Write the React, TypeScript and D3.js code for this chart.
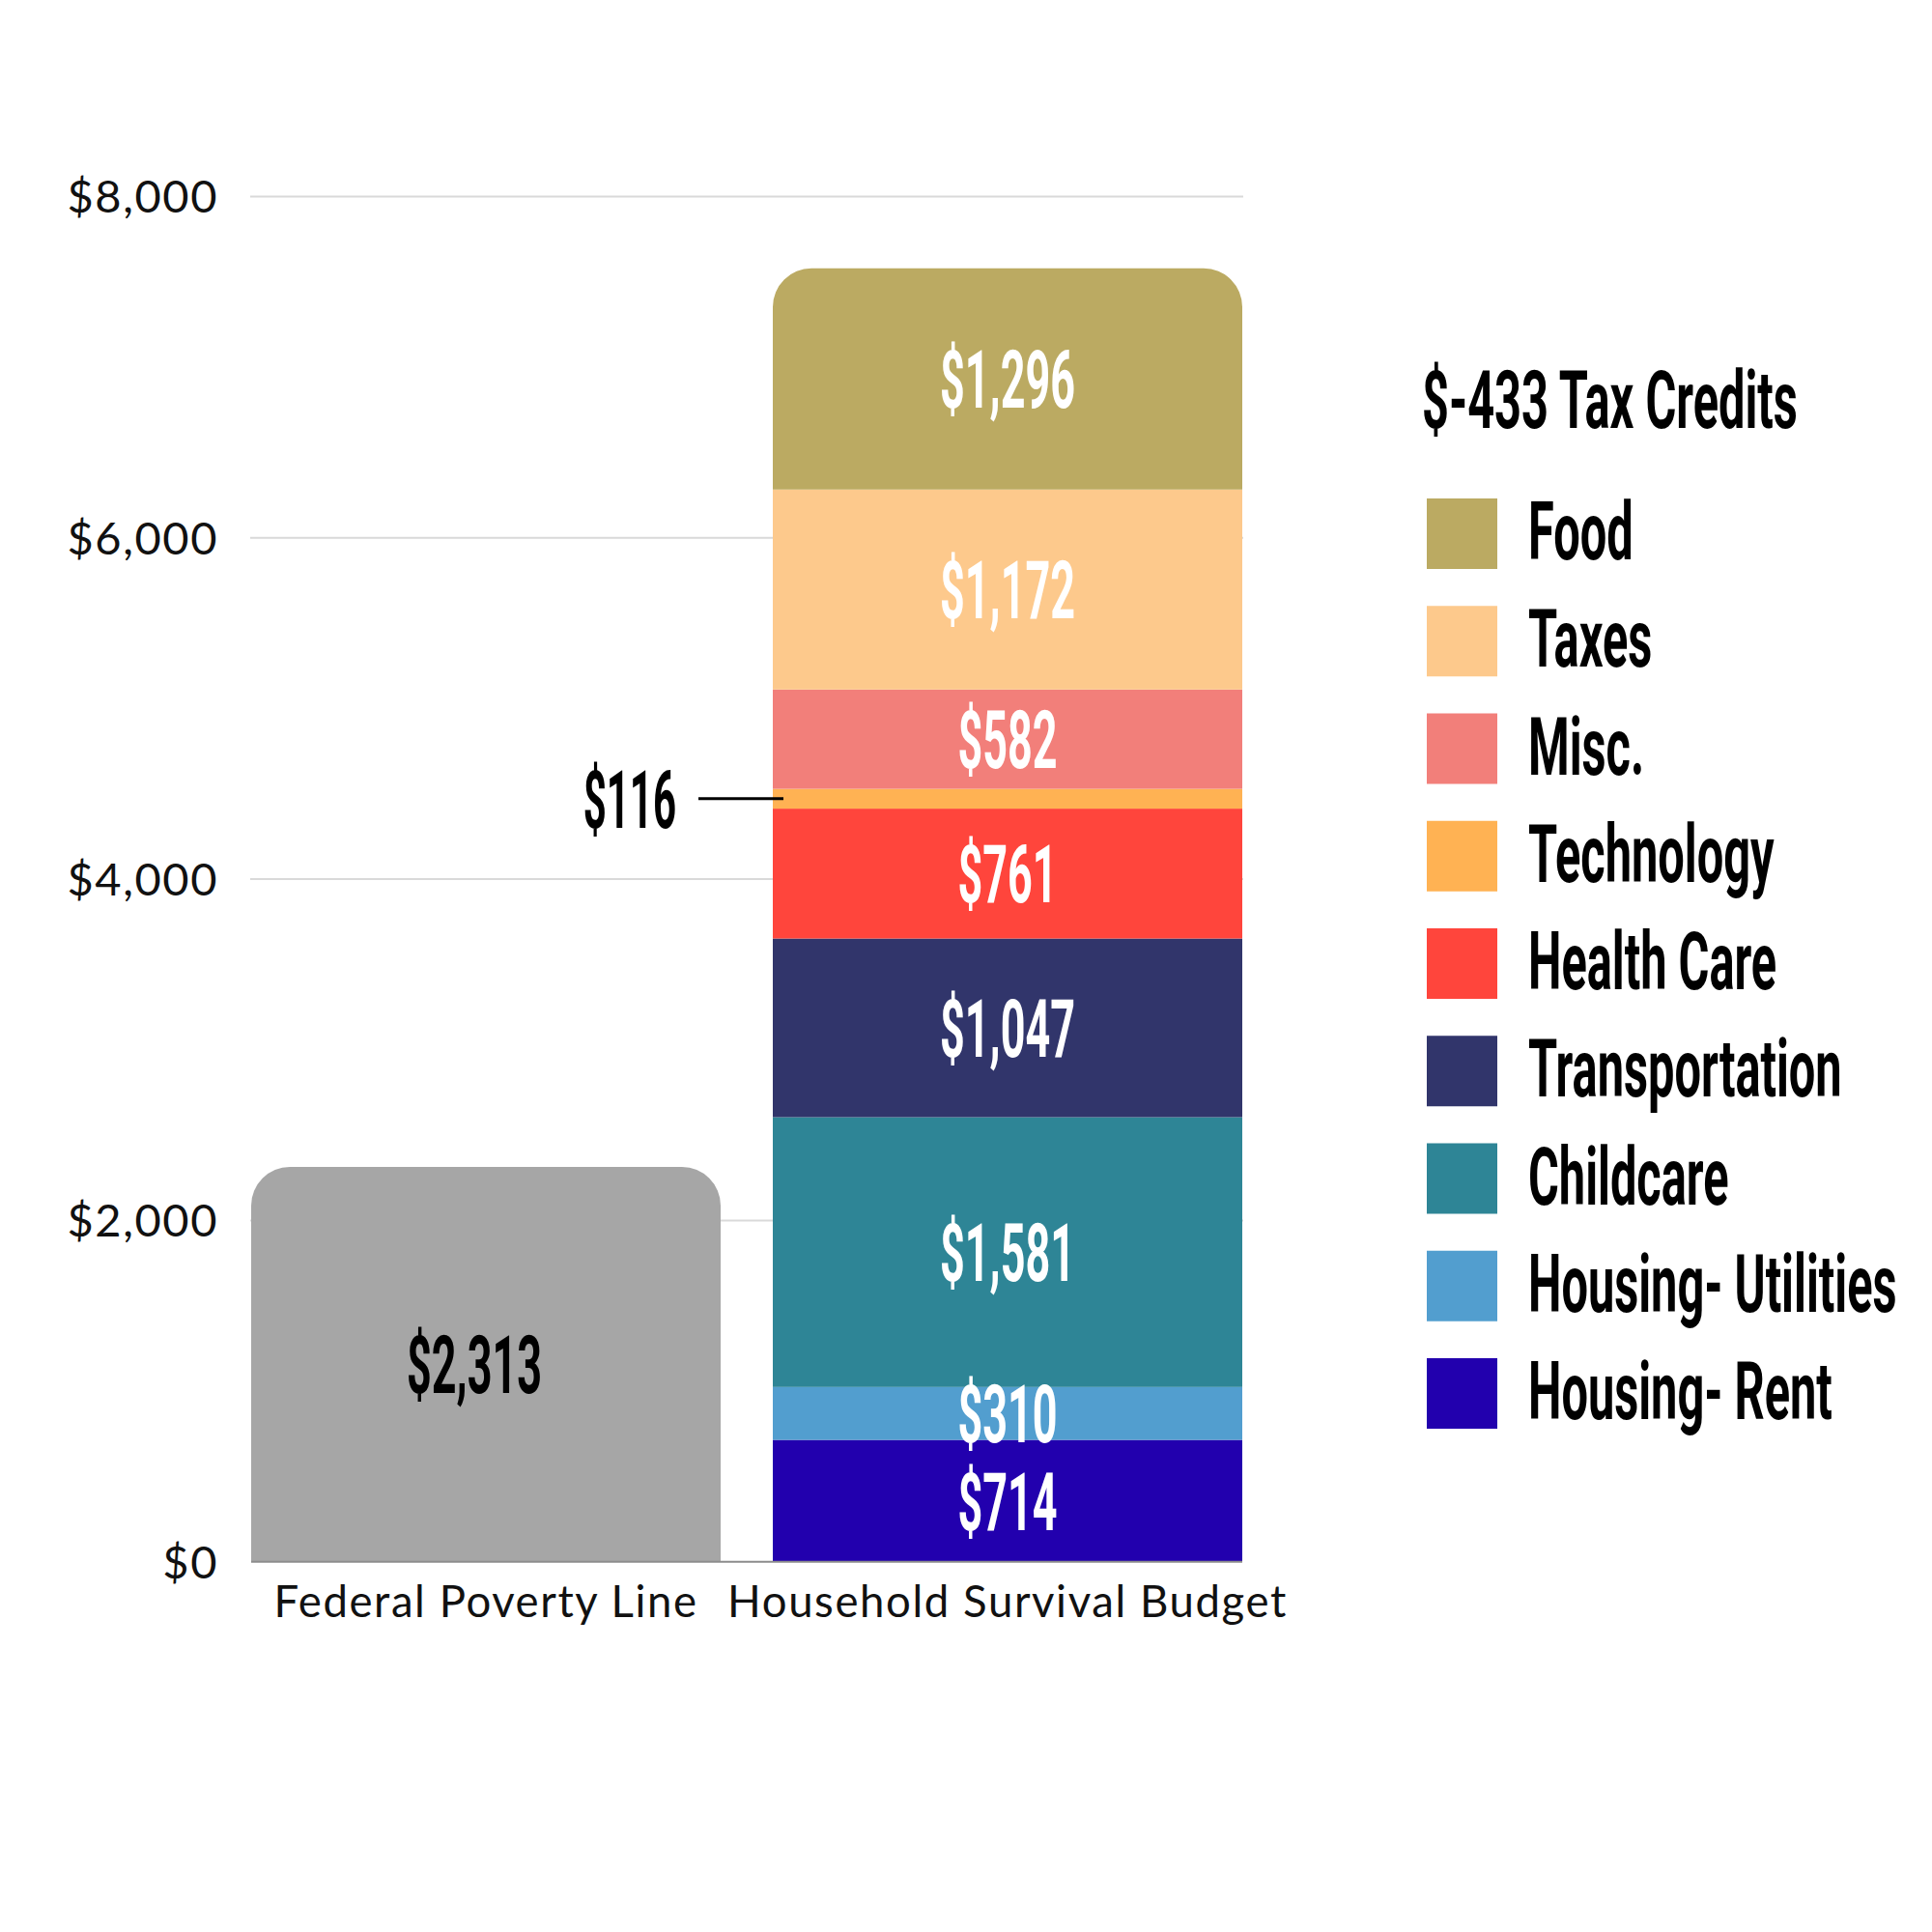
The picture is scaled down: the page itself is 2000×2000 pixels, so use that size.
import React from 'react';
import * as d3 from 'd3';

const categories = ['Federal Poverty Line', 'Household Survival Budget'];
const povertyLineValue = 2313;
const segmentNames = ['Housing- Rent', 'Housing- Utilities', 'Childcare', 'Transportation', 'Health Care', 'Technology', 'Misc.', 'Taxes', 'Food'];
const segmentValues = [714, 310, 1581, 1047, 761, 116, 582, 1172, 1296];
const segmentColors = ['#2200AE', '#529ECF', '#2E8596', '#31356B', '#FF453C', '#FFB253', '#F27F7A', '#FDC98C', '#BBAA62'];
const legendTitle = '$-433 Tax Credits';
const yTicks = [0, 2000, 4000, 6000, 8000];
const calloutSegment = 'Technology';

const W = 2000;
const H = 2000;
const COND_TEXT = 0.58;
const COND_NUM = 0.535;
const COND_FONT = 84;
const CAP = 60;
const AXIS_FONT = "Lato, 'Open Sans', sans-serif";
const COND_FAMILY = "Roboto, 'Liberation Sans', sans-serif";

const fmt = (v: number) => '$' + d3.format(',')(v);

function CondText({ x, y, text, anchor = 'middle', fill = '#fff', sx = COND_NUM }: { x: number; y: number; text: string; anchor?: string; fill?: string; sx?: number }) {
  return (
    <g transform={`translate(${x},${y}) scale(${sx},1)`}>
      <text x={0} y={0} textAnchor={anchor as any} fontFamily={COND_FAMILY} fontWeight={700} fontSize={COND_FONT} fill={fill}>
        {text}
      </text>
    </g>
  );
}

function roundTopRect(x0: number, y0: number, w: number, h: number, r: number) {
  const p = d3.path();
  p.moveTo(x0, y0 + h);
  p.lineTo(x0, y0 + r);
  p.arcTo(x0, y0, x0 + r, y0, r);
  p.lineTo(x0 + w - r, y0);
  p.arcTo(x0 + w, y0, x0 + w, y0 + r, r);
  p.lineTo(x0 + w, y0 + h);
  p.closePath();
  return p.toString();
}

export default function App() {
  const y = d3.scaleLinear().domain([0, 8000]).range([1616.7, 203.4]);
  const x = d3.scaleBand<string>().domain(categories).range([260, 1286]).paddingInner(0.1).paddingOuter(0);
  const bw = x.bandwidth();

  const row: Record<string, number> = {};
  segmentNames.forEach((n, i) => (row[n] = segmentValues[i]));
  const stacked = d3.stack<Record<string, number>>().keys(segmentNames)([row]);

  const fplX = x(categories[0])!;
  const hsbX = x(categories[1])!;
  const radius = 40;
  const gridX0 = 259;
  const gridX1 = 1287;

  const legendX = 1477;
  const legendY0 = 516;
  const legendStep = 111.25;
  const sw = 73;
  const legendOrder = segmentNames.map((n, i) => ({ n, c: segmentColors[i] })).reverse();

  return (
    <svg width={W} height={H} style={{ position: 'absolute', left: 0, top: 0, background: '#fff' }}>
      <rect x={0} y={0} width={W} height={H} fill="#fff" />
      {yTicks.map((t) => (
        <g key={t}>
          {t > 0 && <line x1={gridX0} x2={gridX1} y1={y(t)} y2={y(t)} stroke="#d9d9d9" strokeWidth={2} />}
          <text x={226} y={y(t) + 17} textAnchor="end" fontFamily={AXIS_FONT} fontSize={47} fill="#111" letterSpacing={1.6}>
            {fmt(t)}
          </text>
        </g>
      ))}

      {/* Federal poverty line bar */}
      <path d={roundTopRect(fplX, y(povertyLineValue), bw, y(0) - y(povertyLineValue), radius)} fill="#A6A6A6" />
      <CondText x={fplX + bw / 2 - 12} y={(y(0) + y(povertyLineValue)) / 2 + CAP / 2} text={fmt(povertyLineValue)} fill="#000" />

      {/* Household survival budget stacked */}
      {stacked.map((s, i) => {
        const d = s[0];
        const top = y(d[1]);
        const bot = y(d[0]);
        const isTop = i === stacked.length - 1;
        return isTop ? (
          <path key={s.key} d={roundTopRect(hsbX, top, bw, bot - top, radius)} fill={segmentColors[i]} />
        ) : (
          <rect key={s.key} x={hsbX} y={top} width={bw} height={bot - top} fill={segmentColors[i]} />
        );
      })}
      {stacked.map((s, i) => {
        const d = s[0];
        const cy = (y(d[0]) + y(d[1])) / 2;
        const name = segmentNames[i];
        if (name === calloutSegment) {
          return (
            <g key={'l' + name}>
              <line x1={723} x2={811} y1={cy} y2={cy} stroke="#000" strokeWidth={3} />
              <CondText x={700} y={cy + CAP / 2} text={fmt(segmentValues[i])} anchor="end" fill="#000" sx={0.5} />
            </g>
          );
        }
        return <CondText key={'l' + name} x={hsbX + bw / 2} y={cy + CAP / 2} text={fmt(segmentValues[i])} />;
      })}

      {/* baseline */}
      <line x1={260} x2={1286} y1={y(0)} y2={y(0)} stroke="#8c8c8c" strokeWidth={2} />

      {/* x labels */}
      {categories.map((c) => (
        <text key={c} x={x(c)! + bw / 2} y={1674} textAnchor="middle" fontFamily={AXIS_FONT} fontSize={45.5} fill="#111" letterSpacing={1.6}>
          {c}
        </text>
      ))}

      {/* legend */}
      <CondText x={1472} y={443} text={legendTitle} anchor="start" fill="#000" sx={COND_TEXT} />
      {legendOrder.map((l, i) => (
        <g key={l.n}>
          <rect x={legendX} y={legendY0 + i * legendStep} width={sw} height={sw} fill={l.c} />
          <CondText x={1582} y={legendY0 + i * legendStep + 63} text={l.n} anchor="start" fill="#000" sx={COND_TEXT} />
        </g>
      ))}
    </svg>
  );
}
